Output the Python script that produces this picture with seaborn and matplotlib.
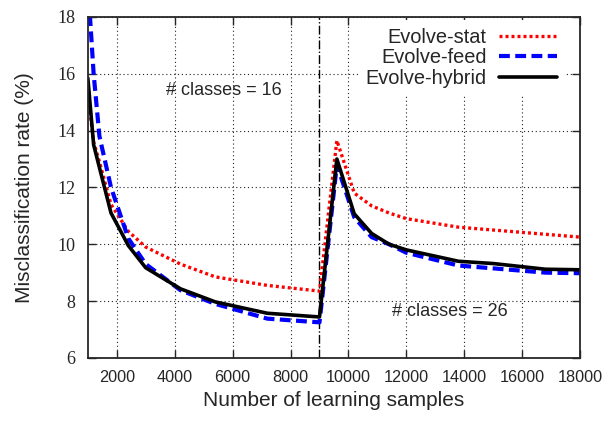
import matplotlib
matplotlib.use("Agg")
import matplotlib.pyplot as plt
import numpy as np
import pandas as pd
import seaborn as sns

samples = [1000, 1200, 1400, 1800, 2400, 3000, 4200, 5400, 7200, 9000,
           9600, 10200, 10800, 11400, 12000, 13800, 15000, 16800, 18000]
evolve_stat = [15.3, 13.6, 12.9, 11.4, 10.45, 9.9, 9.3, 8.85, 8.55, 8.35,
               13.65, 11.8, 11.35, 11.1, 10.9, 10.6, 10.5, 10.35, 10.25]
evolve_feed = [19.2, 16.0, 13.8, 12.0, 10.2, 9.3, 8.38, 7.9, 7.38, 7.25,
               12.8, 10.95, 10.25, 10.0, 9.7, 9.25, 9.15, 9.0, 8.98]
evolve_hybrid = [15.85, 13.5, 12.7, 11.1, 9.95, 9.17, 8.43, 7.97, 7.57, 7.44,
                 13.0, 11.07, 10.38, 10.0, 9.8, 9.4, 9.32, 9.12, 9.1]
series_names = ["Evolve-stat", "Evolve-feed", "Evolve-hybrid"]
x_ticks = [2000, 4000, 6000, 8000, 10000, 12000, 14000, 16000, 18000]
y_ticks = [6, 8, 10, 12, 14, 16, 18]

df = pd.DataFrame({
    "samples": samples * 3,
    "rate": evolve_stat + evolve_feed + evolve_hybrid,
    "method": np.repeat(series_names, len(samples)),
})

sns.set_style("ticks")
plt.rcParams["font.family"] = ["Liberation Sans", "DejaVu Sans"]

fig = plt.figure(figsize=(6.1, 4.24), dpi=100)
ax = fig.add_axes([0.144, 0.156, 0.807, 0.804])

styles = {
    "Evolve-stat": dict(color="red", lw=2.4, dashes=(0.9, 0.9)),
    "Evolve-feed": dict(color="blue", lw=3.0, dashes=(2.6, 1.3)),
    "Evolve-hybrid": dict(color="black", lw=2.6),
}
for name in series_names:
    sub = df[df["method"] == name]
    st = styles[name]
    sns.lineplot(data=sub, x="samples", y="rate", ax=ax, label=name,
                 color=st["color"], linewidth=st["lw"])
    if "dashes" in st:
        ax.lines[-1].set_dashes(st["dashes"])

ax.axvline(9000, color="black", lw=1.0, linestyle="-.", zorder=1)

ax.set_xlim(1000, 18000)
ax.set_ylim(6, 18)
ax.set_xticks(x_ticks)
ax.set_yticks(y_ticks)
ax.grid(True, color="#222222", linestyle=(0, (1, 2.5)), linewidth=0.8)
ax.tick_params(direction="in", length=6, width=1, top=True, right=True,
               labelsize=11.7)
for lab in ax.get_yticklabels():
    lab.set_fontfamily("Liberation Serif")
    lab.set_fontsize(13)
ax.tick_params(axis="y", pad=9)
ax.tick_params(axis="x", pad=9)
for sp in ax.spines.values():
    sp.set_linewidth(1.3)

ax.set_xlabel("Number of learning samples", fontsize=15, labelpad=4)
ax.set_ylabel("Misclassification rate (%)", fontsize=15, labelpad=17)

ax.text(5700, 15.4, "# classes = 16", fontsize=13, ha="center", va="center")
ax.text(13500, 7.63, "# classes = 26", fontsize=13, ha="center", va="center")

leg = ax.legend(loc="upper right", bbox_to_anchor=(0.969, 0.992),
                frameon=True, facecolor="white", edgecolor="none",
                framealpha=1.0, fancybox=False,
                markerfirst=False, fontsize=14.4, handlelength=2.9,
                labelspacing=0.08, borderaxespad=0.0, handletextpad=0.6)
for t in leg.get_texts():
    t.set_ha("right")
leg._legend_box.align = "right"

fig.savefig("out.png", dpi=100)
